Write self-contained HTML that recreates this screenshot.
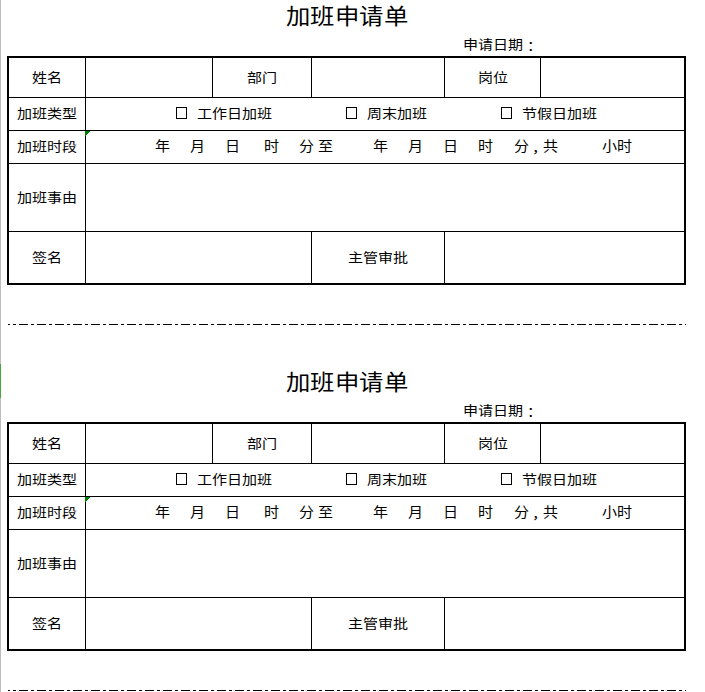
<!DOCTYPE html>
<html lang="zh-CN"><head><meta charset="utf-8">
<style>
html,body{margin:0;padding:0;background:#fff;}
body{width:705px;height:692px;position:relative;overflow:hidden;font-family:"Liberation Sans",sans-serif;color:#000;}
.l{position:absolute;}
.t{position:absolute;white-space:nowrap;line-height:1;transform-origin:0 0;}
.cb{position:absolute;width:9px;height:10px;border:1px solid #000;}
.tri{position:absolute;display:block;}
.dd{position:absolute;left:0;display:block;}
</style></head><body>
<div class="l" style="left:0;top:0;width:1px;height:692px;background:#bcbcbc"></div>
<div class="l" style="left:0;top:364px;width:1px;height:34px;background:#44a83e"></div>
<div class="t" style="left:286.18px;top:5.82px;font-size:24px;transform:scale(1.0161,0.9167)">加班申请单</div>
<div class="t" style="left:463.02px;top:38.43px;font-size:15px;transform:scale(1.0025,0.8700)">申请日期</div>
<div class="t" style="left:32.21px;top:71.40px;font-size:15px;transform:scale(1.0025,0.8700)">姓名</div>
<div class="t" style="left:247.06px;top:71.40px;font-size:15px;transform:scale(1.0025,0.8700)">部门</div>
<div class="t" style="left:477.91px;top:71.38px;font-size:15px;transform:scale(1.0025,0.8700)">岗位</div>
<div class="t" style="left:16.92px;top:107.38px;font-size:15px;transform:scale(1.0025,0.8700)">加班类型</div>
<div class="t" style="left:197.01px;top:107.42px;font-size:15px;transform:scale(1.0025,0.8700)">工作日加班</div>
<div class="t" style="left:366.82px;top:107.42px;font-size:15px;transform:scale(1.0025,0.8700)">周末加班</div>
<div class="t" style="left:521.96px;top:107.42px;font-size:15px;transform:scale(1.0025,0.8700)">节假日加班</div>
<div class="t" style="left:17.02px;top:140.32px;font-size:15px;transform:scale(1.0025,0.8700)">加班时段</div>
<div class="t" style="left:16.98px;top:191.42px;font-size:15px;transform:scale(1.0025,0.8700)">加班事由</div>
<div class="t" style="left:32.36px;top:251.40px;font-size:15px;transform:scale(1.0025,0.8700)">签名</div>
<div class="t" style="left:347.92px;top:251.40px;font-size:15px;transform:scale(1.0025,0.8700)">主管审批</div>
<div class="t" style="left:527.34px;top:38.70px;font-size:15px;transform:scale(1.0025,0.8700)">：</div>
<div class="t" style="left:155.03px;top:139.20px;font-size:15px;transform:scale(1.0025,0.9000)">年</div>
<div class="t" style="left:190.08px;top:139.20px;font-size:15px;transform:scale(1.0025,0.9000)">月</div>
<div class="t" style="left:225.03px;top:139.20px;font-size:15px;transform:scale(1.0025,0.9000)">日</div>
<div class="t" style="left:263.68px;top:139.20px;font-size:15px;transform:scale(1.0025,0.9000)">时</div>
<div class="t" style="left:299.48px;top:139.20px;font-size:15px;transform:scale(1.0025,0.9000)">分</div>
<div class="t" style="left:318.13px;top:139.20px;font-size:15px;transform:scale(1.0025,0.9000)">至</div>
<div class="t" style="left:373.03px;top:139.20px;font-size:15px;transform:scale(1.0025,0.9000)">年</div>
<div class="t" style="left:408.08px;top:139.20px;font-size:15px;transform:scale(1.0025,0.9000)">月</div>
<div class="t" style="left:442.93px;top:139.20px;font-size:15px;transform:scale(1.0025,0.9000)">日</div>
<div class="t" style="left:477.73px;top:139.20px;font-size:15px;transform:scale(1.0025,0.9000)">时</div>
<div class="t" style="left:513.73px;top:139.20px;font-size:15px;transform:scale(1.0025,0.9000)">分</div>
<div class="t" style="left:542.83px;top:139.20px;font-size:15px;transform:scale(1.0025,0.9000)">共</div>
<div class="t" style="left:601.96px;top:139.20px;font-size:15px;transform:scale(1.0025,0.9000)">小时</div>
<div class="t" style="left:531.69px;top:140.62px;font-size:15px;transform:scale(1.0025,0.8700)">，</div>
<div class="l" style="left:7px;top:56px;width:679px;height:2px;background:#000"></div>
<div class="l" style="left:7px;top:283px;width:679px;height:2px;background:#000"></div>
<div class="l" style="left:7px;top:56px;width:2px;height:229px;background:#000"></div>
<div class="l" style="left:684px;top:56px;width:2px;height:229px;background:#000"></div>
<div class="l" style="left:9px;top:97px;width:675px;height:1px;background:#000"></div>
<div class="l" style="left:9px;top:130px;width:675px;height:1px;background:#000"></div>
<div class="l" style="left:9px;top:163px;width:675px;height:1px;background:#000"></div>
<div class="l" style="left:9px;top:231px;width:675px;height:1px;background:#000"></div>
<div class="l" style="left:85px;top:58px;width:1px;height:225px;background:#000"></div>
<div class="l" style="left:212px;top:58px;width:1px;height:39px;background:#000"></div>
<div class="l" style="left:311px;top:58px;width:1px;height:39px;background:#000"></div>
<div class="l" style="left:444px;top:58px;width:1px;height:39px;background:#000"></div>
<div class="l" style="left:540px;top:58px;width:1px;height:39px;background:#000"></div>
<div class="l" style="left:311px;top:232px;width:1px;height:51px;background:#000"></div>
<div class="l" style="left:444px;top:232px;width:1px;height:51px;background:#000"></div>
<svg class="tri" style="left:85px;top:131px" width="5" height="5" shape-rendering="crispEdges"><path d="M0 0H5V1H4V2H3V3H2V4H1V5H0Z" fill="#008000"/></svg>
<div class="cb" style="left:176px;top:107px"></div>
<div class="cb" style="left:346px;top:107px"></div>
<div class="cb" style="left:501px;top:107px"></div>
<svg class="dd" style="top:324px" width="705" height="1"><line x1="8" y1="0.5" x2="686" y2="0.5" stroke="#000" stroke-width="1" stroke-dasharray="9 3 3 3" stroke-dashoffset="7"/></svg>
<div class="t" style="left:286.18px;top:371.82px;font-size:24px;transform:scale(1.0161,0.9167)">加班申请单</div>
<div class="t" style="left:463.02px;top:404.43px;font-size:15px;transform:scale(1.0025,0.8700)">申请日期</div>
<div class="t" style="left:32.21px;top:437.40px;font-size:15px;transform:scale(1.0025,0.8700)">姓名</div>
<div class="t" style="left:247.06px;top:437.40px;font-size:15px;transform:scale(1.0025,0.8700)">部门</div>
<div class="t" style="left:477.91px;top:437.38px;font-size:15px;transform:scale(1.0025,0.8700)">岗位</div>
<div class="t" style="left:16.92px;top:473.38px;font-size:15px;transform:scale(1.0025,0.8700)">加班类型</div>
<div class="t" style="left:197.01px;top:473.43px;font-size:15px;transform:scale(1.0025,0.8700)">工作日加班</div>
<div class="t" style="left:366.82px;top:473.43px;font-size:15px;transform:scale(1.0025,0.8700)">周末加班</div>
<div class="t" style="left:521.96px;top:473.43px;font-size:15px;transform:scale(1.0025,0.8700)">节假日加班</div>
<div class="t" style="left:17.02px;top:506.32px;font-size:15px;transform:scale(1.0025,0.8700)">加班时段</div>
<div class="t" style="left:16.98px;top:557.43px;font-size:15px;transform:scale(1.0025,0.8700)">加班事由</div>
<div class="t" style="left:32.36px;top:617.40px;font-size:15px;transform:scale(1.0025,0.8700)">签名</div>
<div class="t" style="left:347.92px;top:617.40px;font-size:15px;transform:scale(1.0025,0.8700)">主管审批</div>
<div class="t" style="left:527.34px;top:404.71px;font-size:15px;transform:scale(1.0025,0.8700)">：</div>
<div class="t" style="left:155.03px;top:505.20px;font-size:15px;transform:scale(1.0025,0.9000)">年</div>
<div class="t" style="left:190.08px;top:505.20px;font-size:15px;transform:scale(1.0025,0.9000)">月</div>
<div class="t" style="left:225.03px;top:505.20px;font-size:15px;transform:scale(1.0025,0.9000)">日</div>
<div class="t" style="left:263.68px;top:505.20px;font-size:15px;transform:scale(1.0025,0.9000)">时</div>
<div class="t" style="left:299.48px;top:505.20px;font-size:15px;transform:scale(1.0025,0.9000)">分</div>
<div class="t" style="left:318.13px;top:505.20px;font-size:15px;transform:scale(1.0025,0.9000)">至</div>
<div class="t" style="left:373.03px;top:505.20px;font-size:15px;transform:scale(1.0025,0.9000)">年</div>
<div class="t" style="left:408.08px;top:505.20px;font-size:15px;transform:scale(1.0025,0.9000)">月</div>
<div class="t" style="left:442.93px;top:505.20px;font-size:15px;transform:scale(1.0025,0.9000)">日</div>
<div class="t" style="left:477.73px;top:505.20px;font-size:15px;transform:scale(1.0025,0.9000)">时</div>
<div class="t" style="left:513.73px;top:505.20px;font-size:15px;transform:scale(1.0025,0.9000)">分</div>
<div class="t" style="left:542.83px;top:505.20px;font-size:15px;transform:scale(1.0025,0.9000)">共</div>
<div class="t" style="left:601.96px;top:505.20px;font-size:15px;transform:scale(1.0025,0.9000)">小时</div>
<div class="t" style="left:531.69px;top:506.62px;font-size:15px;transform:scale(1.0025,0.8700)">，</div>
<div class="l" style="left:7px;top:422px;width:679px;height:2px;background:#000"></div>
<div class="l" style="left:7px;top:649px;width:679px;height:2px;background:#000"></div>
<div class="l" style="left:7px;top:422px;width:2px;height:229px;background:#000"></div>
<div class="l" style="left:684px;top:422px;width:2px;height:229px;background:#000"></div>
<div class="l" style="left:9px;top:463px;width:675px;height:1px;background:#000"></div>
<div class="l" style="left:9px;top:496px;width:675px;height:1px;background:#000"></div>
<div class="l" style="left:9px;top:529px;width:675px;height:1px;background:#000"></div>
<div class="l" style="left:9px;top:597px;width:675px;height:1px;background:#000"></div>
<div class="l" style="left:85px;top:424px;width:1px;height:225px;background:#000"></div>
<div class="l" style="left:212px;top:424px;width:1px;height:39px;background:#000"></div>
<div class="l" style="left:311px;top:424px;width:1px;height:39px;background:#000"></div>
<div class="l" style="left:444px;top:424px;width:1px;height:39px;background:#000"></div>
<div class="l" style="left:540px;top:424px;width:1px;height:39px;background:#000"></div>
<div class="l" style="left:311px;top:598px;width:1px;height:51px;background:#000"></div>
<div class="l" style="left:444px;top:598px;width:1px;height:51px;background:#000"></div>
<svg class="tri" style="left:85px;top:497px" width="5" height="5" shape-rendering="crispEdges"><path d="M0 0H5V1H4V2H3V3H2V4H1V5H0Z" fill="#008000"/></svg>
<div class="cb" style="left:176px;top:473px"></div>
<div class="cb" style="left:346px;top:473px"></div>
<div class="cb" style="left:501px;top:473px"></div>
<svg class="dd" style="top:690px" width="705" height="1"><line x1="8" y1="0.5" x2="686" y2="0.5" stroke="#000" stroke-width="1" stroke-dasharray="9 3 3 3" stroke-dashoffset="7"/></svg>
</body></html>
